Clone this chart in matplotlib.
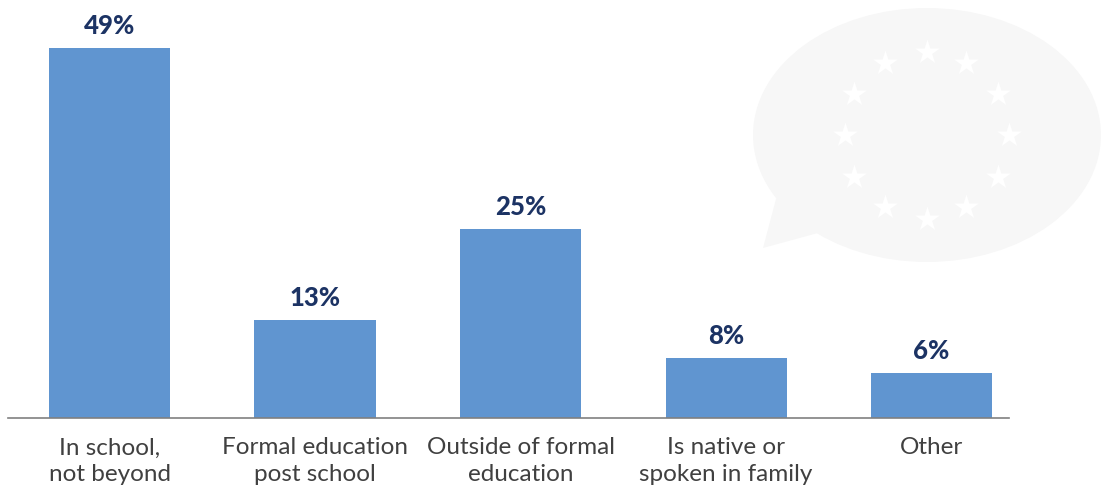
import numpy as np
import matplotlib
matplotlib.use('Agg')
import matplotlib.pyplot as plt
from matplotlib.patches import Ellipse, Polygon

categories = ['In school,\nnot beyond', 'Formal education\npost school', 'Outside of formal\neducation',
              'Is native or\nspoken in family', 'Other']
values = [49, 13, 25, 8, 6]
value_labels = ['49%', '13%', '25%', '8%', '6%']

W, H = 1104, 488
plt.rcParams['font.family'] = ['Lato', 'DejaVu Sans']

fig = plt.figure(figsize=(W / 100, H / 100), dpi=100)

# decoration: speech bubble with stars, in pixel coords
bg = fig.add_axes([0, 0, 1, 1])
bg.set_xlim(0, W)
bg.set_ylim(H, 0)
bg.axis('off')
bg.add_patch(Ellipse((927, 135), 348, 254, fc='#f7f7f7', ec='none'))
bg.add_patch(Polygon([(776, 199), (763, 248), (818, 233), (840, 180)], fc='#f7f7f7', ec='none'))
star_x = [927, 966, 998, 1009, 998, 966, 927, 885, 854, 845, 854, 885]
star_y = [52, 63, 94, 135, 177, 207, 219, 207, 177, 135, 94, 63]
bg.scatter(star_x, star_y, marker='*', s=340, c='white', linewidths=0)

# bars
ax = fig.add_axes([8 / W, 1 - 418 / H, 1001 / W, 370.5 / H])
ax.patch.set_alpha(0)
x = np.arange(len(categories))
ax.bar(x, values, width=0.589, color='#6095d0')
ax.set_xlim(-0.494, 4.377)
ax.set_ylim(0, 49)
ax.set_yticks([])
for s in ['top', 'left', 'right']:
    ax.spines[s].set_visible(False)
ax.spines['bottom'].set_color('#808080')
ax.spines['bottom'].set_linewidth(1.2)
ax.set_xticks(x)
ax.set_xticklabels(categories, fontsize=17.5, color='#404040', linespacing=1.3)
ax.tick_params(axis='x', length=0, pad=14)

for xi, v, lab in zip(x, values, value_labels):
    ax.annotate(lab, xy=(xi, v), xytext=(0, 10), textcoords='offset pixels', ha='center', va='bottom',
                fontsize=18.5, fontweight=900, color='#1c3364', annotation_clip=False)

fig.savefig('out.png', dpi=100)
